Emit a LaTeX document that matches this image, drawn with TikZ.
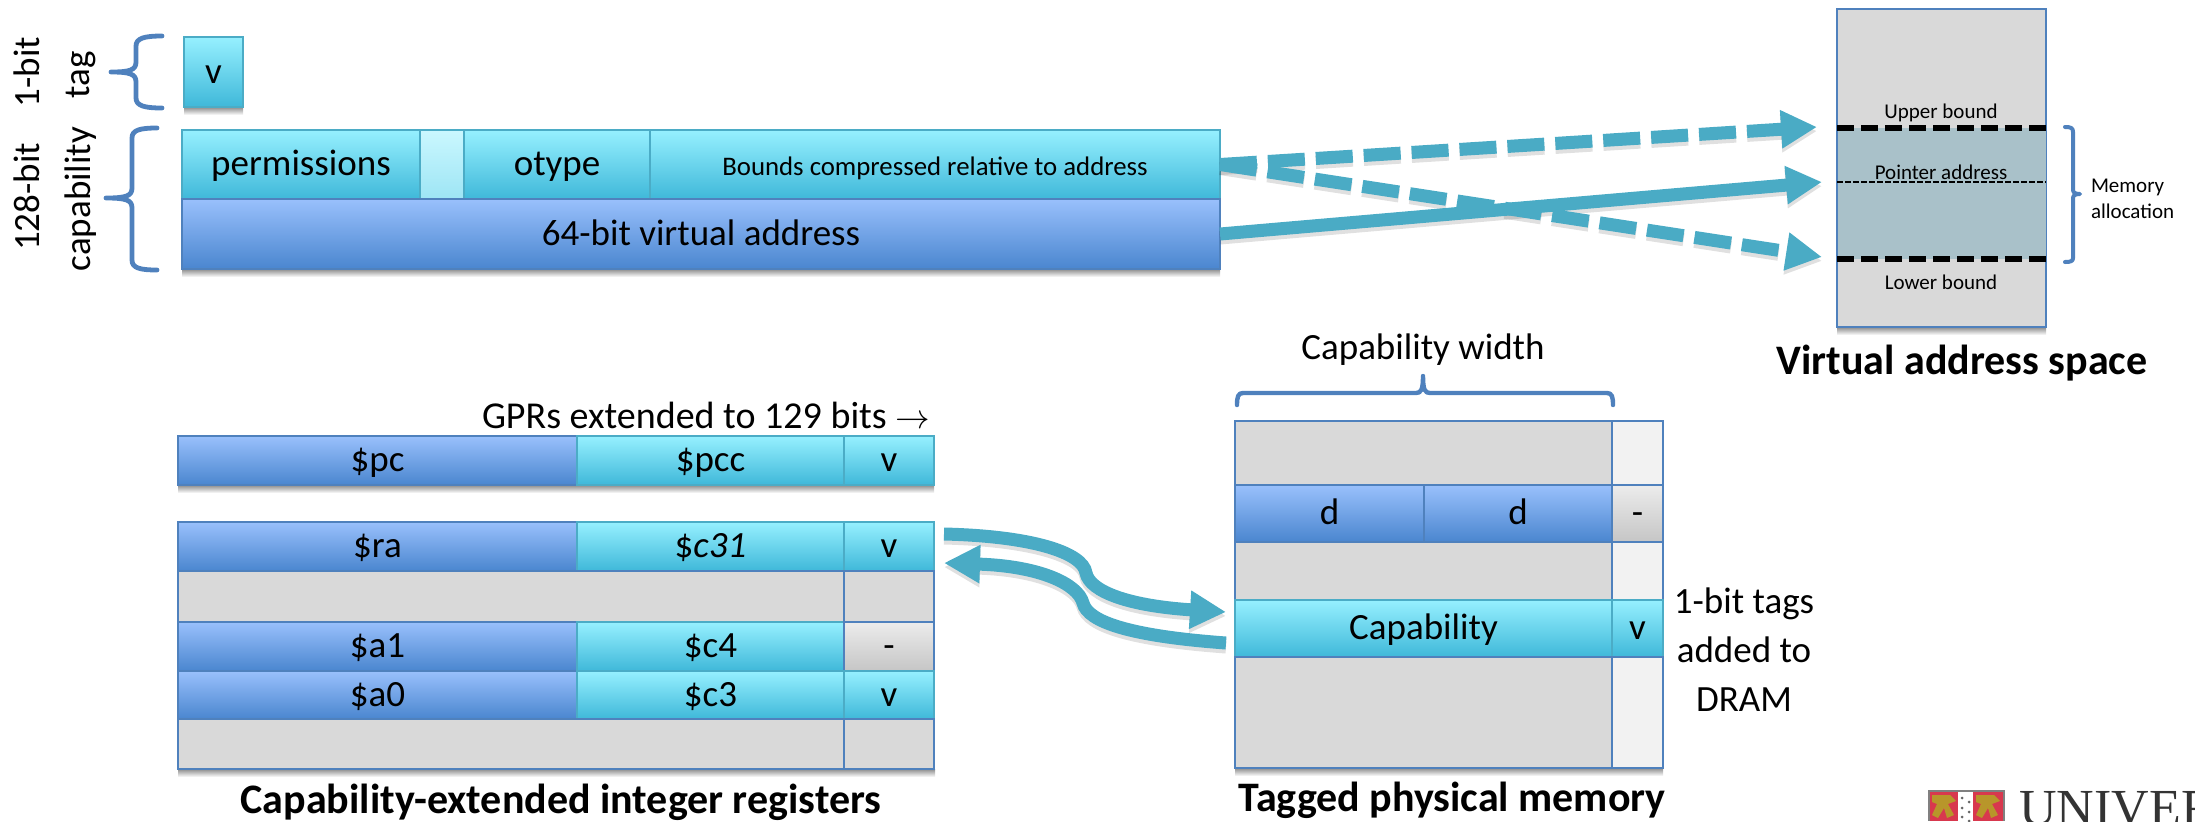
\documentclass[tikz,border=0pt]{standalone}
\usepackage{fontspec}
\setmainfont{Carlito}
\newfontfamily\logofont{Liberation Serif}
\usetikzlibrary{arrows.meta,calc}
\definecolor{cyT}{HTML}{96F0FF}
\definecolor{cyB}{HTML}{3FB8D9}
\definecolor{cyL}{HTML}{4BACC6}
\definecolor{blT}{HTML}{99C0FC}
\definecolor{blB}{HTML}{4A86CF}
\definecolor{blL}{HTML}{4F81BD}
\definecolor{gyF}{HTML}{D9D9D9}
\definecolor{tagF}{HTML}{F2F2F2}
\definecolor{alloc}{HTML}{A9C1C9}
\definecolor{arrowc}{HTML}{4AABC5}
\definecolor{crestR}{HTML}{D8384E}
\definecolor{crestY}{HTML}{B8962A}
\tikzset{
  x=0.5pt,y=-0.5pt,
  cellbase/.style={rectangle,inner sep=0pt,outer sep=0pt,line width=0.8pt,text height=15pt,text depth=4pt,align=center,font=\fontsize{18.5}{22}\selectfont},
  cyancell/.style={cellbase,draw=cyL,top color=cyT,bottom color=cyB},
  bluecell/.style={cellbase,draw=blL,top color=blT,bottom color=blB},
  graycell/.style={cellbase,draw=blL,fill=gyF,line width=0.6pt},
  tagcell/.style={cellbase,draw=blL,fill=tagF},
  paletag/.style={cellbase,draw=cyL,top color=cyT!50!white,bottom color=cyT!60!cyB!70!white},
  dashtag/.style={cellbase,draw=blL,top color=gray!15,bottom color=gray!45},
  label/.style={inner sep=0pt,outer sep=0pt,align=center,font=\fontsize{18.5}{22}\selectfont},
  smalllabel/.style={label,font=\fontsize{10.5}{12}\selectfont},
  titlelabel/.style={label,font=\bfseries\fontsize{21}{24}\selectfont},
  bracket/.style={draw=blL,line width=2.4pt,line cap=round,line join=round},
  boundline/.style={black,line width=2.6pt,dash pattern=on 8.6pt off 3.4pt},
  ptrline/.style={black,line width=1pt,dash pattern=on 3pt off 1pt},
  fatarrow/.style={draw=arrowc,line width=6.5pt,-{Triangle[length=18pt,width=18pt,fill=arrowc]}},
  fatdash/.style={fatarrow,dash pattern=on 18.5pt off 5.5pt},
  curvearrow/.style={draw=arrowc,line width=6.5pt,-{Triangle[length=18pt,width=18pt,fill=arrowc]}},
  shadowed/.style={transform canvas={yshift=-2pt},opacity=.12,draw=black},
}
% \cell{name}{style}{x1}{y1}{x2}{y2}{text}
\newcommand{\cell}[7]{%
  \shade[top color=black!45,bottom color=white] (#3,#6) rectangle (#5,#6+8);
  \node[#2,minimum width={(#5-#3)*0.5pt},minimum height={(#6-#4)*0.5pt}] (#1) at ({(#3+#5)/2},{(#4+#6)/2}) {#7};}
\begin{document}
\begin{tikzpicture}
\useasboundingbox (0,0) rectangle (2195,821);
% tag and capability
\cell{tagv}{cyancell}{184}{37}{243}{107}{v}
\cell{perm}{cyancell}{182}{130}{420}{199}{permissions}
\cell{spare}{paletag}{420}{130}{464}{199}{}
\cell{otype}{cyancell}{464}{130}{650}{199}{otype}
\cell{bounds}{cyancell}{650}{130}{1220}{199}{\fontsize{13.4}{15}\selectfont Bounds compressed relative to address}
\cell{addr}{bluecell}{182}{199}{1220}{269}{64-bit virtual address}
\node[label,rotate=90] (l1bit) at (27,72) {1-bit};
\node[label,rotate=90] (ltag) at (81,75) {tag};
\node[label,rotate=90] (l128) at (27,197) {128-bit};
\node[label,rotate=90] (lcap) at (81,199) {capability};
\draw[bracket] (162,36) .. controls (145,36) and (136,38) .. (136,46) -- (136,62) .. controls (136,70) and (130,72) .. (111,72) .. controls (130,72) and (136,74) .. (136,82) -- (136,98) .. controls (136,106) and (145,108) .. (162,108);
\draw[bracket] (157,128) .. controls (140,128) and (132,130) .. (132,138) -- (132,188) .. controls (132,196) and (126,198) .. (106,198) .. controls (126,198) and (132,200) .. (132,208) -- (132,260) .. controls (132,268) and (140,270) .. (157,270);
% virtual address space
\shade[top color=black!45,bottom color=white] (1837,327) rectangle (2046,335);
\node[graycell,minimum width=104.5pt,minimum height=159pt] (vas) at (1941.5,168) {};
\fill[alloc] (1837.5,128) rectangle (2045.5,259);
\coordinate (upL) at (1837,128); \coordinate (upR) at (2046,128);
\coordinate (ptL) at (1837,182); \coordinate (ptR) at (2046,182);
\coordinate (loL) at (1837,259); \coordinate (loR) at (2046,259);
\draw[boundline] (upL) -- (upR);
\draw[ptrline] (ptL) -- (ptR);
\draw[boundline] (loL) -- (loR);
\node[smalllabel] (lup) at (1941,113) {Upper bound};
\node[smalllabel] (lpt) at (1941,172) {Pointer address};
\node[smalllabel] (llo) at (1941,282) {Lower bound};
\draw[bracket,line width=2pt] (2065,127) .. controls (2071,127) and (2073,128) .. (2073,132) -- (2073,190) .. controls (2073,193) and (2076,194) .. (2080,194) .. controls (2076,194) and (2073,195) .. (2073,198) -- (2073,258) .. controls (2073,261) and (2071,262) .. (2065,262);
\node[smalllabel,align=left,anchor=west] (lmem) at (2091,199) {Memory\\[1pt]allocation};
\node[titlelabel] (tvas) at (1962,363) {Virtual address space};
% arrows to VAS
\coordinate (tipU) at (1817,127);
\coordinate (tipP) at (1822,182);
\coordinate (tipL) at (1822,257);
\foreach \shadowopt in {shadowed,{}}{
  \draw[fatdash,\shadowopt] (bounds.east) -- (tipU);
  \draw[fatdash,\shadowopt] (bounds.east) -- (tipL);
  \draw[fatarrow,\shadowopt] (addr.east) -- (tipP);
}
% registers
\cell{gpc}{bluecell}{178}{436}{577}{485}{\$pc}
\cell{gpcc}{cyancell}{577}{436}{844}{485}{\$pcc}
\cell{gpcv}{cyancell}{844}{436}{934}{485}{v}
\shade[top color=black!45,bottom color=white] (178,769) rectangle (935,777);
\cell{gra}{bluecell}{178}{522}{577}{571}{\$ra}
\cell{gc31}{cyancell}{577}{522}{844}{571}{\$\textit{c31}}
\cell{gr1v}{cyancell}{844}{522}{934}{571}{v}
\cell{gblank1}{graycell}{178}{571}{844}{622}{}
\cell{gblank1t}{graycell}{844}{571}{934}{622}{}
\cell{ga1}{bluecell}{178}{622}{577}{671}{\$a1}
\cell{gc4}{cyancell}{577}{622}{844}{671}{\$c4}
\cell{gr2v}{dashtag}{844}{622}{934}{671}{-}
\cell{ga0}{bluecell}{178}{671}{577}{719}{\$a0}
\cell{gc3}{cyancell}{577}{671}{844}{719}{\$c3}
\cell{gr3v}{cyancell}{844}{671}{934}{719}{v}
\cell{gblank2}{graycell}{178}{719}{844}{769}{}
\cell{gblank2t}{graycell}{844}{719}{934}{769}{}
\node[label,anchor=east,font=\fontsize{19}{22}\selectfont] (lgpr) at (930,415) {GPRs extended to 129 bits $\rightarrow$};
\node[titlelabel] (treg) at (561,802) {Capability-extended integer registers};
% memory
\cell{m1}{graycell}{1235}{421}{1612}{485}{}
\cell{m1t}{tagcell}{1612}{421}{1663}{485}{}
\cell{md1}{bluecell}{1235}{485}{1424}{542}{d}
\cell{md2}{bluecell}{1424}{485}{1612}{542}{d}
\cell{mdt}{dashtag}{1612}{485}{1663}{542}{-}
\cell{m2}{graycell}{1235}{542}{1612}{600}{}
\cell{m2t}{tagcell}{1612}{542}{1663}{600}{}
\cell{mcap}{cyancell}{1235}{600}{1612}{657}{Capability}
\cell{mcapv}{cyancell}{1612}{600}{1663}{657}{v}
\cell{m3}{graycell}{1235}{657}{1612}{768}{}
\cell{m3t}{tagcell}{1612}{657}{1663}{768}{}
\node[label] (ltags) at (1744,650) {1-bit tags\\[2.5pt]added to\\[2.5pt]DRAM};
\node[titlelabel] (tmem) at (1452,800) {Tagged physical memory};
\node[label] (lwidth) at (1423,350) {Capability width};
\draw[bracket,line width=2.2pt] (1237,405) .. controls (1237,397) and (1238,393) .. (1243,393) -- (1416,393) .. controls (1421,393) and (1423,390) .. (1423,376) .. controls (1423,390) and (1425,393) .. (1430,393) -- (1607,393) .. controls (1612,393) and (1613,397) .. (1613,405);
% register <-> memory
\coordinate (sA) at (944,534);
\coordinate (eA) at (1226,612);
\coordinate (sB) at (1226,643);
\coordinate (eB) at (944,563);
\foreach \shadowopt in {shadowed,{}}{
  \draw[curvearrow,\shadowopt] (sA) .. controls (1030,536) and (1083,552) .. (1086,573) .. controls (1090,592) and (1130,606) .. (eA);
  \draw[curvearrow,\shadowopt] (sB) .. controls (1130,636) and (1088,622) .. (1083,603) .. controls (1078,584) and (1040,566) .. (eB);
}
% logo
\fill[gray] (1928,790) rectangle (2005,821);
\fill[crestR] (1930,792) rectangle (1958,821);
\fill[crestR] (1973,792) rectangle (2003,821);
\fill[white] (1958,792) rectangle (1973,821);
\foreach \cx in {1944,1988}{
  \fill[crestY] (\cx-12,795) -- (\cx+6,795) -- (\cx+12,801) -- (\cx+4,804) -- (\cx+10,815) -- (\cx+3,818) -- (\cx,808) -- (\cx-6,818) -- (\cx-12,815) -- (\cx-7,804) -- (\cx-12,802) -- cycle;
}
\foreach \dy in {798,808,817}{\fill[black!60] (1962,\dy) circle (1.5); \fill[black!60] (1969,\dy+4) circle (1.5);}
\begin{scope}
\clip (2010,780) rectangle (2195,821);
\node[inner sep=0pt,anchor=base west,font=\logofont\fontsize{26}{30}\selectfont,text=black!80] (logo) at (2019,825) {UNIVER};
\end{scope}
\end{tikzpicture}
\end{document}
